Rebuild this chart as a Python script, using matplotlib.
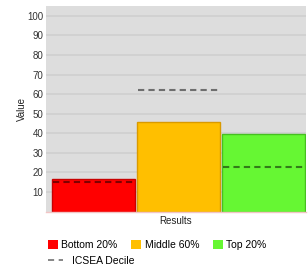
import matplotlib.pyplot as plt
from matplotlib.patches import Patch
from matplotlib.lines import Line2D

plt.rcParams['font.family'] = ['Liberation Sans', 'DejaVu Sans']

# datos
categorias = ["Bottom 20%", "Middle 60%", "Top 20%"]
valores = [16.7, 46, 39.5]
icsea = [15.2, 62.3, 22.8]
colores = ["#ff0000", "#ffbf00", "#66f733"]
bordes = ["#c80000", "#d99a00", "#46c020"]
ticks_y = [10, 20, 30, 40, 50, 60, 70, 80, 90, 100]

fig = plt.figure(figsize=(3.08, 2.71), dpi=100)
ax = fig.add_axes([0.149, 0.219, 0.845, 0.759])
ax.set_facecolor("#dddddd")

x = list(range(len(categorias)))
ax.bar(x, valores, width=0.98, color=colores, edgecolor=bordes, linewidth=1, zorder=2)

# lineas de decil ICSEA sobre cada barra
for xi, v in zip(x, icsea):
    ax.hlines(v, xi - 0.48, xi + 0.48, colors="black", alpha=0.5,
              linestyles=(0, (3, 2)), linewidth=1.5, zorder=3)

ax.set_xlim(-0.56, 2.5)
ax.set_ylim(0, 105)
ax.set_yticks(ticks_y)
ax.set_yticklabels([str(t) for t in ticks_y], fontsize=7, color="#333333")
ax.set_xticks([])
ax.tick_params(axis="y", length=0, pad=2)
ax.grid(axis="y", color="#cfcfcf", linewidth=1.2, zorder=0)
ax.set_axisbelow(True)

for lado in ["top", "right", "left"]:
    ax.spines[lado].set_visible(False)
ax.spines["bottom"].set_color("#f2c4c4")
ax.spines["bottom"].set_linewidth(1)

ax.set_ylabel("Value", fontsize=7, color="#222222", labelpad=0)
ax.set_xlabel("Results", fontsize=7, color="#222222", labelpad=3)

# leyenda
parches = [Patch(facecolor=c, edgecolor="none") for c in colores]
ley1 = fig.legend(parches, categorias, loc="center left", bbox_to_anchor=(0.155, 0.096),
                  ncol=3, frameon=False, fontsize=7.5, handlelength=1.0, handleheight=1.0,
                  handletextpad=0.3, columnspacing=1.3, borderpad=0, borderaxespad=0)
linea = Line2D([], [], color="#666666", linestyle=(0, (4, 3)), linewidth=1.1)
ley2 = fig.legend([linea], ["ICSEA Decile"], loc="center left", bbox_to_anchor=(0.155, 0.037),
                  frameon=False, fontsize=7.5, handlelength=1.5, handletextpad=0.8,
                  borderpad=0, borderaxespad=0)

fig.savefig("out.png", dpi=100)
